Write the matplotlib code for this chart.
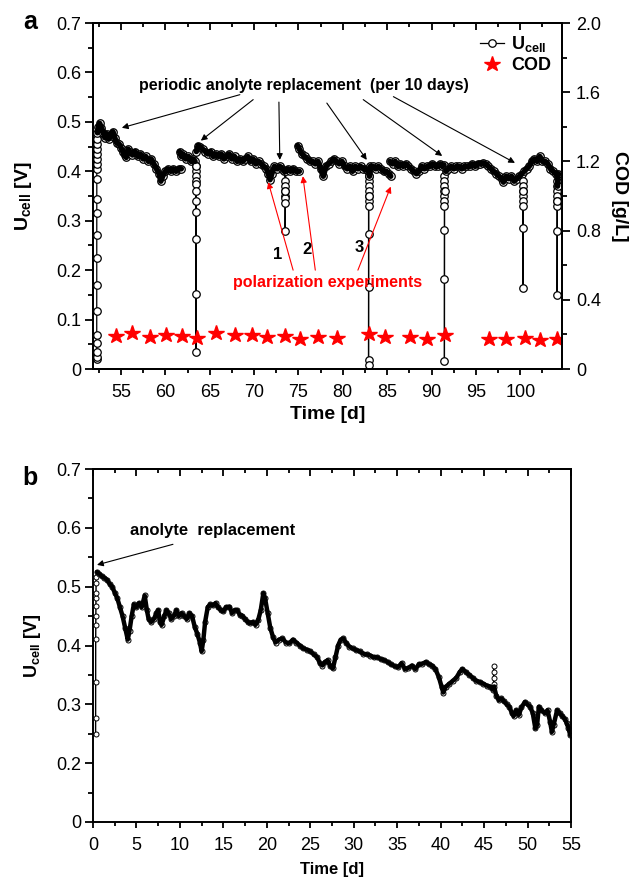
import matplotlib
matplotlib.use('Agg')
import matplotlib.pyplot as plt
from matplotlib.ticker import MultipleLocator, FuncFormatter
import numpy as np

plt.rcParams['font.family'] = ['Liberation Sans', 'DejaVu Sans']
plt.rcParams['mathtext.fontset'] = 'custom'
plt.rcParams['mathtext.rm'] = 'Liberation Sans'
plt.rcParams['mathtext.bf'] = 'Liberation Sans:bold'

# ---- panel a: cell voltage, segments between anolyte replacements (day, V)
seg1 = [(52.27, 0.020), (52.27, 0.025), (52.27, 0.035), (52.27, 0.052), (52.27, 0.069),
        (52.27, 0.118), (52.27, 0.170), (52.27, 0.224), (52.27, 0.272), (52.27, 0.315),
        (52.27, 0.344), (52.27, 0.385), (52.28, 0.405), (52.28, 0.415), (52.28, 0.425),
        (52.28, 0.435), (52.29, 0.445), (52.29, 0.455), (52.30, 0.465), (52.35, 0.478),
        (52.45, 0.490), (52.6, 0.497), (52.8, 0.488), (53.0, 0.478), (53.2, 0.468),
        (53.4, 0.476), (53.6, 0.465), (53.8, 0.472), (54.1, 0.480), (54.3, 0.468),
        (54.5, 0.458), (54.8, 0.455), (55.0, 0.448), (55.2, 0.440), (55.4, 0.432),
        (55.6, 0.428), (55.8, 0.445), (56.0, 0.440), (56.3, 0.433), (56.6, 0.440),
        (56.9, 0.430), (57.2, 0.435), (57.5, 0.425), (57.8, 0.430), (58.1, 0.420),
        (58.4, 0.425), (58.7, 0.415), (59.0, 0.405), (59.3, 0.395), (59.5, 0.380),
        (59.7, 0.390), (60.0, 0.400), (60.3, 0.405), (60.6, 0.400), (60.9, 0.405),
        (61.2, 0.400), (61.5, 0.405), (61.8, 0.405)]
seg2 = [(61.6, 0.440), (61.8, 0.430), (62.0, 0.435), (62.3, 0.425), (62.6, 0.430),
        (62.9, 0.420), (63.1, 0.425), (63.35, 0.420), (63.45, 0.410), (63.45, 0.400),
        (63.45, 0.390), (63.45, 0.380), (63.45, 0.375), (63.45, 0.340), (63.45, 0.317),
        (63.45, 0.263), (63.45, 0.151), (63.45, 0.035), (63.46, 0.360), (63.47, 0.410),
        (63.5, 0.440), (63.7, 0.452), (63.9, 0.450), (64.2, 0.445), (64.5, 0.440),
        (64.8, 0.435), (65.1, 0.440), (65.4, 0.430), (65.7, 0.435), (66.0, 0.430),
        (66.3, 0.435), (66.6, 0.425), (66.9, 0.430), (67.2, 0.435), (67.5, 0.425),
        (67.8, 0.430), (68.1, 0.420), (68.4, 0.425), (68.7, 0.420), (69.0, 0.425),
        (69.3, 0.430), (69.6, 0.420), (69.9, 0.425), (70.2, 0.415), (70.5, 0.420),
        (70.8, 0.415), (71.1, 0.410), (71.4, 0.405), (71.6, 0.395), (71.8, 0.383),
        (72.0, 0.395), (72.3, 0.410), (72.6, 0.405), (72.9, 0.410), (73.2, 0.405),
        (73.4, 0.400), (73.5, 0.380), (73.5, 0.370), (73.5, 0.360), (73.5, 0.350),
        (73.5, 0.345), (73.5, 0.335), (73.5, 0.280), (73.52, 0.360), (73.6, 0.400),
        (73.8, 0.405), (74.1, 0.400), (74.4, 0.405), (74.7, 0.400), (75.1, 0.400)]
seg3 = [(74.9, 0.452), (75.1, 0.445), (75.4, 0.435), (75.7, 0.430), (76.0, 0.425),
        (76.3, 0.420), (76.6, 0.420), (76.9, 0.415), (77.2, 0.420), (77.5, 0.405),
        (77.8, 0.390), (78.1, 0.410), (78.4, 0.415), (78.7, 0.420), (79.0, 0.425),
        (79.3, 0.420), (79.6, 0.415), (79.9, 0.420), (80.2, 0.410), (80.5, 0.405),
        (80.8, 0.410), (81.1, 0.400), (81.4, 0.410), (81.7, 0.405), (82.0, 0.410),
        (82.3, 0.405), (82.6, 0.405), (82.85, 0.400), (82.9, 0.390), (82.9, 0.380),
        (82.9, 0.370), (82.9, 0.360), (82.9, 0.350), (82.9, 0.340), (82.9, 0.330),
        (82.9, 0.273), (82.9, 0.166), (82.9, 0.018), (82.9, 0.008), (82.92, 0.350),
        (83.0, 0.390), (83.1, 0.410), (83.4, 0.410), (83.7, 0.405), (84.0, 0.410),
        (84.3, 0.405), (84.6, 0.400), (84.9, 0.400), (85.2, 0.395), (85.4, 0.390)]
seg4 = [(85.3, 0.420), (85.6, 0.415), (85.9, 0.420), (86.2, 0.410), (86.5, 0.415),
        (86.8, 0.410), (87.1, 0.415), (87.4, 0.410), (87.7, 0.405), (88.0, 0.400),
        (88.3, 0.395), (88.6, 0.400), (88.9, 0.410), (89.2, 0.405), (89.5, 0.410),
        (89.8, 0.410), (90.1, 0.415), (90.4, 0.410), (90.7, 0.410), (91.0, 0.415),
        (91.2, 0.410), (91.4, 0.413), (91.45, 0.390), (91.45, 0.380), (91.45, 0.370),
        (91.45, 0.360), (91.45, 0.350), (91.45, 0.340), (91.45, 0.330), (91.45, 0.281),
        (91.45, 0.182), (91.45, 0.016), (91.47, 0.360), (91.6, 0.400), (91.9, 0.405),
        (92.2, 0.410), (92.5, 0.405), (92.8, 0.410), (93.1, 0.410), (93.4, 0.405),
        (93.7, 0.410), (94.0, 0.410), (94.3, 0.410), (94.6, 0.415), (94.9, 0.410),
        (95.2, 0.415), (95.5, 0.415), (95.8, 0.417), (96.1, 0.415), (96.4, 0.410),
        (96.7, 0.405), (97.0, 0.400), (97.3, 0.395), (97.6, 0.390), (97.9, 0.385),
        (98.1, 0.378), (98.4, 0.390), (98.7, 0.385), (99.0, 0.390), (99.3, 0.380),
        (99.6, 0.385), (99.9, 0.390), (100.2, 0.395), (100.3, 0.380), (100.3, 0.370),
        (100.3, 0.360), (100.3, 0.350), (100.3, 0.340), (100.3, 0.330), (100.3, 0.285),
        (100.3, 0.163), (100.32, 0.360), (100.45, 0.400), (100.7, 0.405), (101.0, 0.410),
        (101.3, 0.420), (101.6, 0.425), (101.9, 0.420), (102.2, 0.430), (102.5, 0.420),
        (102.8, 0.420), (103.1, 0.415), (103.4, 0.405), (103.7, 0.400), (104.0, 0.395),
        (104.15, 0.380), (104.15, 0.370), (104.15, 0.360), (104.15, 0.350), (104.15, 0.340),
        (104.15, 0.330), (104.15, 0.280), (104.15, 0.150), (104.17, 0.340), (104.2, 0.370),
        (104.25, 0.390), (104.3, 0.395)]

cod_day = [54.4, 56.2, 58.3, 60.1, 61.9, 63.6, 65.7, 67.8, 69.8, 71.5, 73.5, 75.2,
           77.2, 79.3, 82.9, 84.8, 87.6, 89.5, 91.5, 96.5, 98.4, 100.5, 102.2, 104.1]
cod_val = [0.19, 0.21, 0.185, 0.195, 0.19, 0.18, 0.21, 0.195, 0.195, 0.185, 0.19, 0.175,
           0.185, 0.18, 0.20, 0.185, 0.185, 0.175, 0.195, 0.175, 0.175, 0.18, 0.17, 0.175]

# ---- panel b: cell voltage after single anolyte replacement (day, V)
run_b = [(0.30, 0.249), (0.30, 0.277), (0.31, 0.338), (0.31, 0.411), (0.32, 0.435),
         (0.32, 0.450), (0.33, 0.467), (0.33, 0.480), (0.34, 0.490), (0.35, 0.506),
         (0.36, 0.517), (0.45, 0.525), (0.7, 0.522), (1.0, 0.518), (1.3, 0.515),
         (1.6, 0.512), (1.9, 0.505), (2.2, 0.500), (2.5, 0.490), (2.8, 0.480),
         (3.1, 0.465), (3.4, 0.450), (3.7, 0.430), (4.0, 0.410), (4.2, 0.425),
         (4.45, 0.450), (4.7, 0.470), (5.0, 0.465), (5.3, 0.472), (5.6, 0.465),
         (5.95, 0.485), (6.2, 0.460), (6.4, 0.445), (6.7, 0.440), (7.0, 0.445),
         (7.3, 0.455), (7.5, 0.460), (7.7, 0.440), (7.9, 0.435), (8.2, 0.450),
         (8.45, 0.460), (8.7, 0.455), (9.0, 0.445), (9.3, 0.450), (9.6, 0.460),
         (9.9, 0.450), (10.2, 0.455), (10.5, 0.450), (10.8, 0.445), (11.1, 0.455),
         (11.4, 0.450), (11.7, 0.432), (12.0, 0.420), (12.3, 0.405), (12.5, 0.390),
         (12.7, 0.410), (12.9, 0.440), (13.2, 0.465), (13.5, 0.470), (13.8, 0.468),
         (14.1, 0.472), (14.4, 0.465), (14.7, 0.460), (15.0, 0.458), (15.3, 0.465),
         (15.7, 0.466), (16.0, 0.455), (16.3, 0.460), (16.6, 0.460), (16.9, 0.452),
         (17.2, 0.450), (17.5, 0.445), (17.8, 0.440), (18.1, 0.438), (18.4, 0.440),
         (18.7, 0.435), (19.0, 0.443), (19.3, 0.460), (19.6, 0.489), (19.8, 0.480),
         (20.1, 0.455), (20.4, 0.430), (20.7, 0.415), (21.0, 0.405), (21.4, 0.410),
         (21.8, 0.412), (22.2, 0.405), (22.6, 0.404), (23.0, 0.410), (23.4, 0.405),
         (23.8, 0.400), (24.2, 0.395), (24.6, 0.393), (25.0, 0.390), (25.4, 0.385),
         (25.8, 0.380), (26.1, 0.370), (26.4, 0.366), (26.7, 0.372), (27.0, 0.375),
         (27.3, 0.365), (27.6, 0.361), (27.9, 0.380), (28.2, 0.400), (28.5, 0.410),
         (28.8, 0.412), (29.1, 0.405), (29.5, 0.398), (29.9, 0.395), (30.3, 0.392),
         (30.7, 0.390), (31.1, 0.386), (31.5, 0.385), (31.9, 0.383), (32.3, 0.380),
         (32.7, 0.380), (33.1, 0.377), (33.5, 0.375), (33.9, 0.372), (34.3, 0.368),
         (34.7, 0.365), (35.1, 0.363), (35.5, 0.370), (35.9, 0.360), (36.3, 0.362),
         (36.7, 0.366), (37.1, 0.360), (37.5, 0.368), (37.9, 0.369), (38.3, 0.372),
         (38.7, 0.368), (39.0, 0.366), (39.4, 0.360), (39.8, 0.346), (40.1, 0.330),
         (40.3, 0.320), (40.6, 0.330), (41.0, 0.335), (41.4, 0.340), (41.8, 0.345),
         (42.2, 0.355), (42.5, 0.360), (42.9, 0.355), (43.3, 0.350), (43.7, 0.345),
         (44.1, 0.340), (44.5, 0.338), (44.9, 0.335), (45.3, 0.332), (45.7, 0.330),
         (46.0, 0.325), (46.1, 0.335), (46.1, 0.345), (46.1, 0.355), (46.1, 0.365),
         (46.15, 0.330), (46.4, 0.315), (46.7, 0.307), (47.0, 0.310), (47.3, 0.305),
         (47.6, 0.300), (47.9, 0.296), (48.2, 0.285), (48.4, 0.280), (48.7, 0.290),
         (49.0, 0.282), (49.3, 0.295), (49.7, 0.304), (50.0, 0.300), (50.3, 0.296),
         (50.6, 0.285), (50.9, 0.259), (51.1, 0.265), (51.3, 0.296), (51.6, 0.290),
         (52.0, 0.285), (52.3, 0.290), (52.6, 0.270), (52.8, 0.253), (53.0, 0.265),
         (53.4, 0.290), (53.7, 0.285), (54.0, 0.280), (54.3, 0.275), (54.5, 0.268),
         (54.7, 0.260), (54.9, 0.248)]


def join(*segs):
    t, v = [], []
    for s in segs:
        if t:
            t.append(np.nan)
            v.append(np.nan)
        t += [p[0] for p in s]
        v += [p[1] for p in s]
    return np.array(t), np.array(v)


def dense_only(t, v, gap=0.03):
    # hide the near-vertical runs (replacements / polarization) so the thick
    # trace only covers the densely logged parts
    dtp = np.abs(np.diff(t, prepend=np.nan))
    dtn = np.abs(np.diff(t, append=np.nan))
    out = v.copy()
    out[(dtp < gap) | (dtn < gap)] = np.nan
    return out


def zero_fmt(v, pos):
    return '0' if abs(v) < 1e-9 else '%.1f' % v


def frame(ax, xminor):
    for s in ax.spines.values():
        s.set_linewidth(1.4)
    ax.tick_params(which='both', direction='out', width=1.3, labelsize=13, top=False, right=False)
    ax.tick_params(axis='y', which='major', length=6, pad=2.5)
    ax.tick_params(axis='y', which='minor', length=3.5)
    ax.tick_params(axis='x', which='major', length=4.5, pad=6)
    ax.tick_params(axis='x', which='minor', length=3)
    top = ax.secondary_xaxis('top')
    top.xaxis.set_major_locator(MultipleLocator(5))
    top.xaxis.set_minor_locator(MultipleLocator(xminor))
    top.tick_params(which='both', direction='in', width=1.3, labeltop=False)
    top.tick_params(which='major', length=5)
    top.tick_params(which='minor', length=3)
    top.spines['top'].set_linewidth(1.4)


fig = plt.figure(figsize=(6.3, 8.81), dpi=100)

# ===================== panel a =====================
ax1 = fig.add_axes([93 / 630, 1 - 369 / 881, 469 / 630, 346 / 881])
ta, va = join(seg1, seg2, seg3, seg4)
l1, = ax1.plot(ta, va, '-o', color='k', lw=0.9, ms=5.4, mfc='white', mec='k', mew=0.9)
ax1.plot(ta, dense_only(ta, va), '-', color='k', lw=4.0, solid_capstyle='round')
ax1.set_xlim(51.85, 104.7)
ax1.set_ylim(0, 0.7)
ax1.xaxis.set_major_locator(MultipleLocator(5))
ax1.xaxis.set_minor_locator(MultipleLocator(2.5))
ax1.yaxis.set_major_locator(MultipleLocator(0.1))
ax1.yaxis.set_minor_locator(MultipleLocator(0.05))
ax1.yaxis.set_major_formatter(FuncFormatter(zero_fmt))
frame(ax1, 2.5)
ax1.set_ylabel(r'$\mathbf{U_{cell}}$ [V]', fontsize=14, fontweight='bold')
ax1.yaxis.set_label_coords(-0.125, 0.5)
ax1.set_xlabel('Time [d]', fontsize=14, fontweight='bold')
ax1.xaxis.set_label_coords(0.5, -0.108)

ax2 = ax1.twinx()
l2, = ax2.plot(cod_day, cod_val, '*', color='red', ms=11.5, mec='red')
ax2.set_ylim(0, 2.0)
ax2.yaxis.set_major_locator(MultipleLocator(0.4))
ax2.yaxis.set_minor_locator(MultipleLocator(0.2))
ax2.yaxis.set_major_formatter(FuncFormatter(zero_fmt))
for s in ax2.spines.values():
    s.set_linewidth(1.4)
ax2.tick_params(which='both', direction='out', width=1.3, labelsize=13, pad=4)
ax2.tick_params(which='major', length=6)
ax2.tick_params(which='minor', length=3.5)
ax2.set_ylabel('COD [g/L]', fontsize=14, fontweight='bold', rotation=270)
ax2.yaxis.set_label_coords(1.14, 0.5)

ax1.legend([l1, l2], [r'$\mathbf{U_{cell}}$', 'COD'], loc='upper right',
           bbox_to_anchor=(1.0, 1.0), frameon=False, prop={'size': 13, 'weight': 'bold'},
           handlelength=1.3, handletextpad=0.4, borderaxespad=0.2, labelspacing=0.2)

ax1.text(75.6, 0.573, 'periodic anolyte replacement  (per 10 days)', ha='center',
         va='center', fontsize=11.5, fontweight='bold')
arr_k = dict(arrowstyle='-|>', color='k', lw=0.8, mutation_scale=9, shrinkA=0, shrinkB=0)
for tail, head in [((68.4, 0.555), (55.1, 0.488)), ((69.9, 0.545), (64.0, 0.462)),
                   ((72.8, 0.540), (72.9, 0.423)), ((78.2, 0.538), (82.7, 0.423)),
                   ((82.3, 0.545), (91.2, 0.431)), ((85.7, 0.551), (99.4, 0.417))]:
    ax1.annotate('', xy=head, xytext=tail, arrowprops=arr_k)

ax1.text(78.3, 0.176, 'polarization experiments', ha='center', va='center',
         fontsize=11.5, fontweight='bold', color='red')
arr_r = dict(arrowstyle='-|>', color='red', lw=0.8, mutation_scale=9, shrinkA=0, shrinkB=0)
for tail, head in [((74.4, 0.200), (71.6, 0.378)), ((76.9, 0.200), (75.5, 0.390)),
                   ((81.7, 0.200), (85.4, 0.369))]:
    ax1.annotate('', xy=head, xytext=tail, arrowprops=arr_r)
for lab, x, y in [('1', 72.6, 0.231), ('2', 76.0, 0.241), ('3', 81.9, 0.245)]:
    ax1.text(x, y, lab, ha='center', va='center', fontsize=12, fontweight='bold')

fig.text(30 / 630, 1 - 22 / 881, 'a', fontsize=18, fontweight='bold', ha='center', va='center')

# ===================== panel b =====================
ax3 = fig.add_axes([93 / 630, 1 - 822 / 881, 478 / 630, 353 / 881])
tb, vb = join(run_b)
ax3.plot(tb, vb, '-o', color='k', lw=1.0, ms=3.6, mfc='white', mec='k', mew=0.7)
ax3.plot(tb, dense_only(tb, vb), '-', color='k', lw=3.2, solid_capstyle='round')
ax3.set_xlim(0, 55)
ax3.set_ylim(0.1, 0.7)
ax3.xaxis.set_major_locator(MultipleLocator(5))
ax3.xaxis.set_minor_locator(MultipleLocator(2.5))
ax3.set_yticks([0.1, 0.2, 0.3, 0.4, 0.5, 0.6, 0.7])
ax3.set_yticklabels(['0', '0.2', '0.3', '0.4', '0.5', '0.6', '0.7'])
ax3.yaxis.set_minor_locator(MultipleLocator(0.05))
frame(ax3, 2.5)
ax3.set_ylabel(r'$\mathbf{U_{cell}}$ [V]', fontsize=13, fontweight='bold')
ax3.yaxis.set_label_coords(-0.105, 0.5)
ax3.set_xlabel('Time [d]', fontsize=12, fontweight='bold')
ax3.xaxis.set_label_coords(0.5, -0.113)

ax3.text(13.8, 0.595, 'anolyte  replacement', ha='center', va='center',
         fontsize=12, fontweight='bold')
ax3.annotate('', xy=(0.46, 0.537), xytext=(9.2, 0.572), arrowprops=arr_k)

fig.text(30 / 630, 1 - 478 / 881, 'b', fontsize=18, fontweight='bold', ha='center', va='center')

fig.savefig('out.png', dpi=100)
